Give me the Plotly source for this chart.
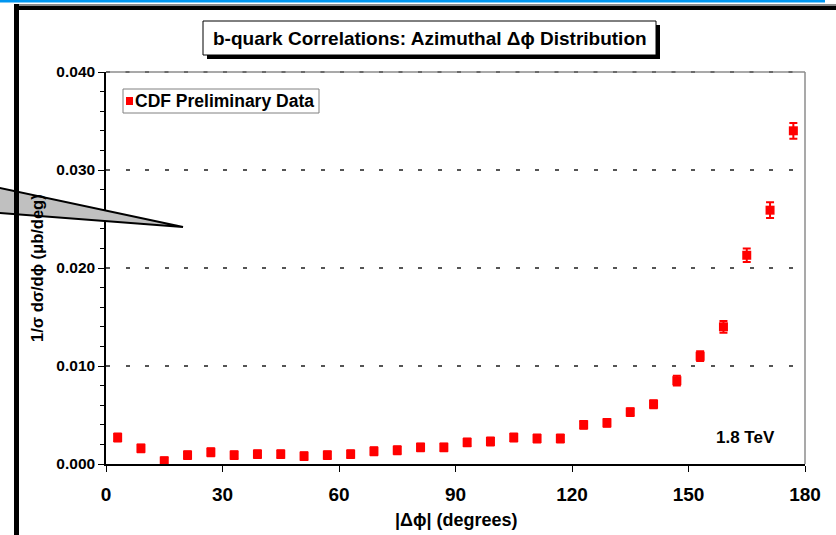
import plotly.graph_objects as go

# |delta phi| bin centres (degrees) and normalised cross section (ub/deg)
dphi = [3, 9, 15, 21, 27, 33, 39, 45, 51, 57, 63, 69, 75, 81, 87,
        93, 99, 105, 111, 117, 123, 129, 135, 141, 147, 153, 159, 165, 171, 177]
xsec = [0.0027, 0.0016, 0.0003, 0.0009, 0.0012, 0.0009, 0.0010, 0.0010, 0.0008, 0.0009,
        0.0010, 0.0013, 0.0014, 0.0017, 0.0017, 0.0022, 0.0023, 0.0027, 0.0026, 0.0026,
        0.0040, 0.0042, 0.0053, 0.0061, 0.0085, 0.0110, 0.0140, 0.0213, 0.0259, 0.0340]
xsec_err = [0.0004] * 20 + [0.0004, 0.0004, 0.0004, 0.0004, 0.0005, 0.0005,
                            0.0006, 0.0007, 0.0008, 0.0008]

y_ticks = [0.0, 0.01, 0.02, 0.03, 0.04]
x_ticks = [0, 30, 60, 90, 120, 150, 180]

W, H = 836, 535
L, R, T, B = 106, 805, 72, 464   # plot area in pixels


def px(x):
    return (x - L) / (R - L)


def py(y):
    return (B - y) / (B - T)


FONT = "Liberation Sans, Arial, sans-serif"

fig = go.Figure()

fig.add_trace(go.Scatter(
    x=dphi,
    y=xsec,
    mode="markers",
    name="CDF Preliminary Data",
    marker=dict(symbol="square", size=9, color="#ff0000"),
    error_y=dict(type="data", array=xsec_err, color="#ff0000", thickness=2, width=4),
    showlegend=False,
))


def rect(x0, x1, y0, y1, fill, line=None, layer="above"):
    return dict(type="rect", xref="paper", yref="paper",
                x0=px(x0), x1=px(x1), y0=py(y0), y1=py(y1),
                fillcolor=fill, line=line or dict(width=0), layer=layer)


shapes = [
    # slide decorations
    rect(0, 825, 0, 2.5, "#0096f0"),
    rect(14, 840, 4, 6, "#8a8a8a"),
    rect(14, 840, 6, 10, "#000000"),
    # grey callout wedge
    dict(type="path", xref="paper", yref="paper",
         path=f"M {px(-10)} {py(185.9)} L {px(183)} {py(227)} L {px(-10)} {py(212.2)} Z",
         fillcolor="#c0c0c0", line=dict(color="#000000", width=2), layer="above"),
    rect(14, 19, 4, 540, "#000000"),
    # title box with shadow
    rect(207, 660, 25, 59, "#000000"),
    rect(203, 656, 21, 55, "#ffffff", dict(color="#000000", width=1)),
    # top and right border of plot area
    dict(type="line", xref="paper", yref="paper", x0=0, x1=1, y0=1, y1=1,
         line=dict(color="#8c8c8c", width=1.5), layer="below"),
    dict(type="line", xref="paper", yref="paper", x0=0, x1=1, y0=1, y1=1,
         line=dict(color="#555555", width=1.5, dash="4px,15.5px"), layer="below"),
    dict(type="line", xref="paper", yref="paper", x0=1, x1=1, y0=0, y1=1,
         line=dict(color="#8c8c8c", width=1.5), layer="below"),
    # legend box and key
    rect(123, 319, 89, 113, "#ffffff", dict(color="#808080", width=1)),
    rect(126, 133, 97, 105, "#ff0000"),
]

annotations = [
    dict(text="b-quark Correlations: Azimuthal Δϕ Distribution", xref="paper", yref="paper",
         x=px(429.5), y=py(38.5), xanchor="center", yanchor="middle", showarrow=False,
         font=dict(family=FONT, size=19, color="#000000", weight="bold")),
    dict(text="CDF Preliminary Data", xref="paper", yref="paper",
         x=px(133), y=py(101), xanchor="left", yanchor="middle", showarrow=False,
         font=dict(family=FONT, size=17.5, color="#000000", weight="bold")),
    dict(text="1.8 TeV", xref="paper", yref="paper", x=px(745), y=py(437),
         xanchor="center", yanchor="middle", showarrow=False,
         font=dict(family=FONT, size=17, color="#000000", weight="bold")),
    dict(text="1/σ dσ/dϕ (μb/deg)", xref="paper", yref="paper", x=px(37), y=py(268),
         xanchor="center", yanchor="middle", textangle=-90, showarrow=False,
         font=dict(family=FONT, size=16.5, color="#000000", weight="bold")),
    dict(text="|Δϕ| (degrees)", xref="paper", yref="paper", x=px(456), y=py(520),
         xanchor="center", yanchor="middle", showarrow=False,
         font=dict(family=FONT, size=18, color="#000000", weight="bold")),
]

fig.update_layout(
    width=W,
    height=H,
    margin=dict(l=L, r=W - R, t=T, b=H - B, autoexpand=False),
    paper_bgcolor="#ffffff",
    plot_bgcolor="#ffffff",
    font=dict(family=FONT, color="#000000"),
    showlegend=False,
    xaxis=dict(
        range=[0, 180],
        tickvals=x_ticks,
        ticks="outside", ticklen=6, tickcolor="#000000", tickwidth=1,
        showline=True, linecolor="#000000", linewidth=1.5,
        showgrid=False, zeroline=False,
        tickfont=dict(family=FONT, size=19, color="#000000", weight="bold"),
        ticklabelstandoff=6,
    ),
    yaxis=dict(
        range=[0, 0.04],
        tickvals=y_ticks,
        tickformat=".3f",
        ticks="outside", ticklen=6, tickcolor="#000000", tickwidth=1,
        minor=dict(dtick=0.002, ticks="outside", ticklen=4, tickcolor="#000000", showgrid=False),
        showline=True, linecolor="#000000", linewidth=1.5,
        showgrid=True, gridcolor="#555555", gridwidth=1.5, griddash="4px,15.5px",
        zeroline=False,
        tickfont=dict(family=FONT, size=15.5, color="#000000", weight="bold"),
    ),
    shapes=shapes,
    annotations=annotations,
)

fig.write_html(
    "out.html",
    config={"displayModeBar": False},
    post_script="document.body.style.margin='0';document.body.style.overflow='hidden';",
)
